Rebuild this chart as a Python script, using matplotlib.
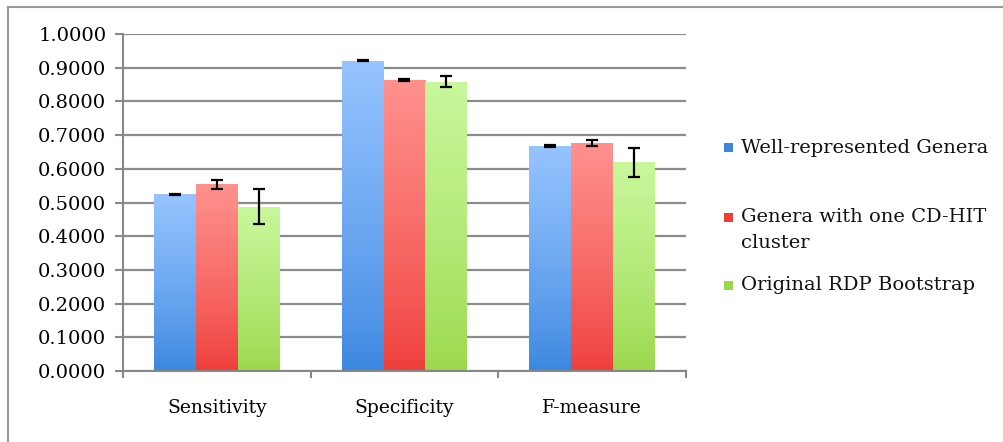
import numpy as np
import matplotlib
matplotlib.use('Agg')
import matplotlib.pyplot as plt
from matplotlib.colors import LinearSegmentedColormap
from matplotlib.patches import Rectangle
from matplotlib.lines import Line2D

# data
categories = ['Sensitivity', 'Specificity', 'F-measure']
series = ['Well-represented Genera', 'Genera with one CD-HIT\ncluster', 'Original RDP Bootstrap']
well_rep = [0.524, 0.921, 0.668]
one_cluster = [0.554, 0.864, 0.676]
rdp_boot = [0.488, 0.859, 0.619]
well_rep_err = [0.002, 0.002, 0.002]
one_cluster_err = [0.013, 0.003, 0.009]
rdp_boot_err = [0.052, 0.015, 0.043]

values = [well_rep, one_cluster, rdp_boot]
errors = [well_rep_err, one_cluster_err, rdp_boot_err]
# (top colour, bottom colour) for the gradient fill
grads = [('#96c4ff', '#3a86df'), ('#ff918d', '#ee3d3a'), ('#c9f79c', '#9ad84b')]

plt.rcParams['font.family'] = ['DejaVu Serif']

fig = plt.figure(figsize=(10.04, 4.42), dpi=100)
ax = fig.add_axes([0.1225, 0.1606, 0.5607, 0.7624])

x = np.arange(len(categories))
width = 0.223

for i in range(3):
    pos = x + (i - 1) * width
    bars = ax.bar(pos, values[i], width, color=grads[i][1], zorder=2, linewidth=0)
    cmap = LinearSegmentedColormap.from_list('g%d' % i, [grads[i][1], grads[i][0]])
    for b in bars:
        bx, by = b.get_x(), b.get_y()
        bw, bh = b.get_width(), b.get_height()
        grad = np.linspace(0, 1, 256).reshape(-1, 1) ** 0.8
        im = ax.imshow(grad, cmap=cmap, origin='lower', aspect='auto',
                       extent=[bx, bx + bw, by, by + bh], zorder=2.5)
        im.set_clip_path(b)
    ax.errorbar(pos, values[i], yerr=errors[i], fmt='none', ecolor='black',
                elinewidth=1.6, capsize=4.2, capthick=1.6, zorder=3)

ax.set_xlim(-0.5, 2.5)
ax.set_ylim(0, 1.0)
ax.set_yticks(np.arange(0, 1.01, 0.1))
ax.set_yticklabels(['%.4f' % v for v in np.arange(0, 1.01, 0.1)], fontsize=14)
ax.set_xticks(x)
ax.set_xticklabels(categories, fontsize=13.5)
ax.tick_params(axis='x', length=0, pad=20)
ax.set_xticks([-0.5, 0.5, 1.5, 2.5], minor=True)
ax.tick_params(axis='x', which='minor', length=5, color='#888888', width=1.5)
ax.tick_params(axis='y', length=6, color='#888888', width=1.5, pad=6)
ax.yaxis.grid(True, color='#8c8c8c', linewidth=1.6, zorder=0)
ax.set_axisbelow(True)
for s in ['top', 'right']:
    ax.spines[s].set_visible(False)
for s in ['left', 'bottom']:
    ax.spines[s].set_color('#888888')
    ax.spines[s].set_linewidth(1.5)

# legend drawn by hand to match the spacing of the original
leg_y = [148, 217, 285]
for i in range(3):
    yy = 1 - leg_y[i] / 442.0
    fig.patches.append(Rectangle((724 / 1004.0, yy - 4.5 / 442.0), 9 / 1004.0, 9 / 442.0,
                                 facecolor=grads[i][1], edgecolor='none', transform=fig.transFigure))
    fig.text(741 / 1004.0, yy + 9 / 442.0, series[i], fontsize=14, va='top', ha='left',
             linespacing=1.55, color='#111111')

# outer frame (only left and top edges visible)
fig.lines.append(Line2D([8 / 1004.0, 8 / 1004.0], [0, 1 - 7 / 442.0], color='#999999',
                        linewidth=1.5, transform=fig.transFigure))
fig.lines.append(Line2D([8 / 1004.0, 1], [1 - 7 / 442.0, 1 - 7 / 442.0], color='#999999',
                        linewidth=1.5, transform=fig.transFigure))

fig.savefig('out.png', dpi=100)
